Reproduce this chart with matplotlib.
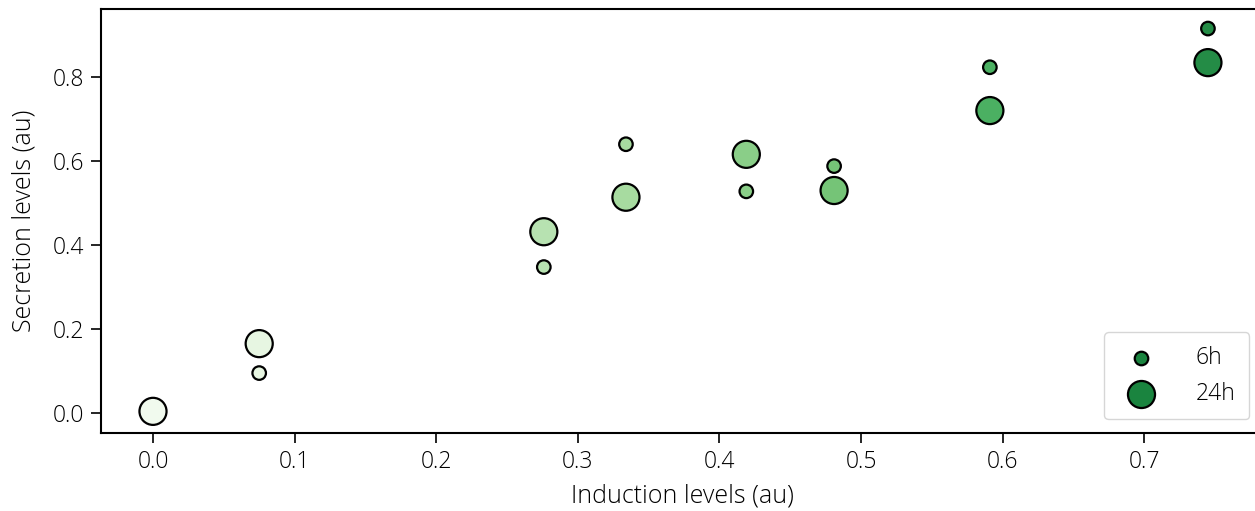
import matplotlib
matplotlib.use('Agg')
import matplotlib.pyplot as plt
import numpy as np

# datos
induccion = [0.0, 0.075, 0.276, 0.334, 0.419, 0.481, 0.591, 0.745]
secrecion_6h = [0.0, 0.095, 0.347, 0.639, 0.527, 0.587, 0.822, 0.914]
secrecion_24h = [0.004, 0.165, 0.431, 0.513, 0.615, 0.529, 0.719, 0.833]
etiquetas = ['6h', '24h']

plt.rcParams['font.family'] = ['Open Sans', 'DejaVu Sans']
plt.rcParams['font.weight'] = 'light'
plt.rcParams['axes.labelweight'] = 'light'

fig = plt.figure(figsize=(12.55, 5.11), dpi=100)
# el eje derecho queda fuera de la imagen, como en el original
ax = fig.add_axes([0.0805, 0.1526, 0.926, 0.8294])

norma = plt.Normalize(vmin=-0.05, vmax=1.02)
colores = plt.cm.Greens(norma(np.array(induccion)))

ax.scatter(induccion, secrecion_6h, s=95, c=colores, edgecolors='black', linewidths=1.6, label=etiquetas[0], zorder=3)
ax.scatter(induccion, secrecion_24h, s=380, c=colores, edgecolors='black', linewidths=1.6, label=etiquetas[1], zorder=3)

ax.set_xlim(-0.0367, 0.784)
ax.set_ylim(-0.0475, 0.96)
ax.set_xticks(np.arange(0, 0.71, 0.1))
ax.set_yticks(np.arange(0, 0.81, 0.2))
ax.tick_params(labelsize=16.5, length=7, width=1.2, pad=5)
for sp in ax.spines.values():
    sp.set_linewidth(1.5)

ax.set_xlabel('Induction levels (au)', fontsize=18, labelpad=7)
ax.set_ylabel('Secretion levels (au)', fontsize=18, labelpad=12)

leg = ax.legend(loc='lower right', fontsize=16.5, borderpad=0.6, labelspacing=0.5,
                handletextpad=1.4, borderaxespad=0.6)
for h in leg.legend_handles:
    h.set_facecolor(plt.cm.Greens(0.78))

fig.savefig('out.png', dpi=100)
